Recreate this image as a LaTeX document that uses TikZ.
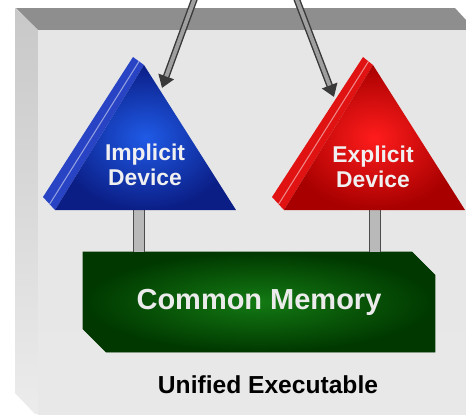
\documentclass[tikz,border=0pt]{standalone}
\usepackage{fontspec}
\setmainfont{Liberation Sans}
\usetikzlibrary{arrows.meta,shapes.misc,calc}
\definecolor{slabtop}{HTML}{8E8E8E}
\definecolor{slabside}{HTML}{C8C8C8}
\definecolor{implside}{HTML}{2843C4}
\definecolor{impllight}{HTML}{1F5AE6}
\definecolor{impldark}{HTML}{0B1E86}
\definecolor{explside}{HTML}{E01212}
\definecolor{expllight}{HTML}{FF1C1C}
\definecolor{expldark}{HTML}{A80000}
\definecolor{memlight}{HTML}{137A13}
\definecolor{memdark}{HTML}{003800}
\tikzset{
  devlabel/.style={text=white!94!black, font=\bfseries\fontsize{13}{14.5}\selectfont, align=center},
  membox/.style={chamfered rectangle, chamfered rectangle corners={north east,south west},
                 chamfered rectangle xsep=0.3cm, chamfered rectangle ysep=0.2cm,
                 minimum width=7.04cm, minimum height=2cm, inner sep=0pt,
                 draw=memdark, inner color=memlight, outer color=memdark,
                 text=white!92!black, font=\bfseries\fontsize{16.5}{18}\selectfont},
  fetch/.style={-{Triangle[length=7pt,width=9pt]}, line width=3.8pt, draw=gray!45!black, fill=gray!45!black,
                postaction={draw=gray!75, line width=2.2pt, -, shorten >=7pt}},
  post/.style={double=gray!55, double distance=5.5pt, line width=0.6pt, draw=gray!60!black},
  highlight/.style={line width=0.6pt},
}
\begin{document}
\begin{tikzpicture}[x=0.02cm,y=-0.02cm]
  \useasboundingbox (0,0) rectangle (466,414);
  \fill[white] (0,0) rectangle (466,414);

  % the slab
  \fill[slabtop] (16,8) -- (455,8) -- (466,20) -- (466,30) -- (38,30) -- cycle;
  \shade[top color=slabside, bottom color=white!85!gray] (15,8) -- (38,30) -- (38,414) -- (35,414) -- (15,393) -- cycle;
  \shade[top color=white!80!gray, middle color=white!95!gray, bottom color=white!82!gray] (38,30) rectangle (466,414);

  \coordinate (feedL) at (197,-8);
  \coordinate (feedR) at (294,-8);
  \coordinate (iTip) at (162,88);
  \coordinate (rTip) at (334,97);
  \coordinate (iPost) at (139,210);
  \coordinate (rPost) at (375,210);

  \node[membox] (memory) at (259,302) {Common Memory};

  \draw[post] (iPost) -- (iPost |- memory.north);
  \draw[post] (rPost) -- (rPost |- memory.north);

  % implicit device
  \coordinate (iA) at (133,57);
  \coordinate (iB) at (43,197);
  \coordinate (iC) at (55,210);
  \coordinate (iD) at (144,65);
  \coordinate (iE) at (236,210);
  \fill[implside] (iA) -- (iB) -- (iC) -- (iD) -- cycle;
  \draw[highlight, implside!50!white] ($(iA)!0.55!(iD)$) -- ($(iB)!0.55!(iC)$);
  \shade[inner color=impllight, outer color=impldark] (iD) -- (iC) -- (iE) -- cycle;
  \node[devlabel] (implicit) at (145,165) {Implicit\\Device};

  % explicit device
  \coordinate (rA) at (363,57);
  \coordinate (rB) at (272,197);
  \coordinate (rC) at (284,210);
  \coordinate (rD) at (373,65);
  \coordinate (rE) at (465,210);
  \fill[explside] (rA) -- (rB) -- (rC) -- (rD) -- cycle;
  \draw[highlight, explside!50!white] ($(rA)!0.55!(rD)$) -- ($(rB)!0.55!(rC)$);
  \shade[inner color=expllight, outer color=expldark] (rD) -- (rC) -- (rE) -- cycle;
  \node[devlabel] (explicit) at (373,167) {Explicit\\Device};

  \draw[fetch] (feedL) -- (iTip);
  \draw[fetch] (feedR) -- (rTip);

  \node[font=\bfseries\fontsize{14}{16}\selectfont] (unified) at (268,385) {Unified Executable};
\end{tikzpicture}
\end{document}
